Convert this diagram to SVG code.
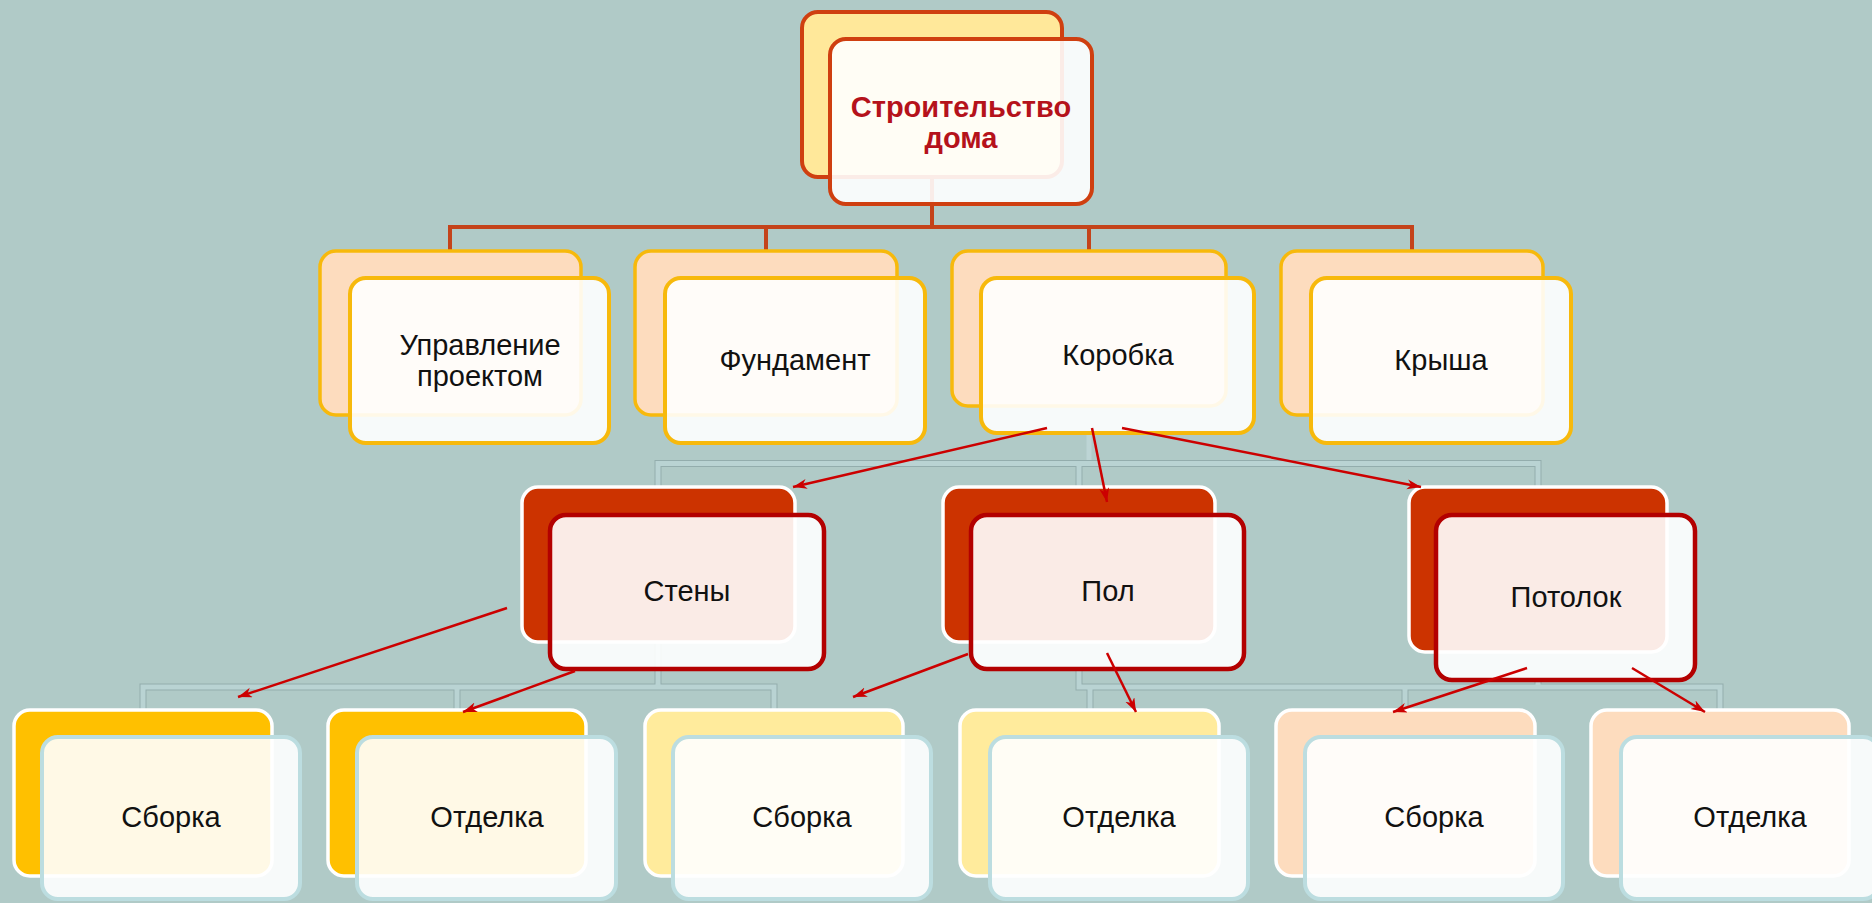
<svg xmlns="http://www.w3.org/2000/svg" width="1872" height="903" viewBox="0 0 1872 903">
<defs>
<style>
.txt{font-family:"Liberation Sans",Arial,sans-serif;font-size:29px;fill:#111;text-anchor:middle}
.rt{font-weight:bold;fill:#b5121b}
.r-back{fill:#ffe89a;stroke:#cf3f10;stroke-width:4}
.r-front{fill:#fff;fill-opacity:.9;stroke:#cf3f10;stroke-width:4}
.l2-back{fill:#fddcbe;stroke:#f7b90c;stroke-width:3.5}
.l2-front{fill:#fff;fill-opacity:.9;stroke:#f7b90c;stroke-width:4}
.l3-back{fill:#cc3300;stroke:#fff;stroke-width:3.5}
.l3-front{fill:#fff;fill-opacity:.9;stroke:#b30000;stroke-width:4.5}
.l4-back{stroke:#fff;stroke-width:3.5}
.l4-front{fill:#fff;fill-opacity:.9;stroke:#bcdde0;stroke-width:4}
.tree{fill:none;stroke:#c4431a;stroke-width:4}
.br-o{fill:none;stroke:#93adad;stroke-width:7}
.br-i{fill:none;stroke:#b9d3d3;stroke-width:5}
.br-f{fill:none;stroke:#bdd5d5;stroke-width:5}
.arr{fill:none;stroke:#cc0000;stroke-width:2.5;marker-end:url(#ah)}
</style>
<marker id="ah" markerUnits="userSpaceOnUse" markerWidth="16" markerHeight="12" refX="14" refY="5" orient="auto">
<path d="M0,0 L14,5 L0,10 L4,5 z" fill="#cc0000"/>
</marker>
</defs>
<rect x="0" y="0" width="1872" height="903" fill="#b0cac7"/>

<g id="connectors">
<path class="tree" d="M932,177 V227 M450,251 V227 H1412 V251 M766,227 V251 M1089,227 V251"/>
<path class="br-f" d="M1089,433 V461"/>
<path class="br-o" d="M658,487 V463.5 H1538 V487 M1079,463.5 V487"/>
<path class="br-i" d="M658,487 V463.5 H1538 V487 M1079,463.5 V487"/>
<path class="br-o" d="M143,710 V687 H774 V710 M457,687 V710 M658,642 V687 M1079,669 V687 H1720 V710 M1090,687 V710 M1405,687 V710 M1538,680 V687"/>
<path class="br-i" d="M143,710 V687 H774 V710 M457,687 V710 M658,642 V687 M1079,669 V687 H1720 V710 M1090,687 V710 M1405,687 V710 M1538,680 V687"/>
</g>

<g id="root">
<rect class="r-back" x="802" y="12" width="260" height="165" rx="16"/>
<rect class="r-front" x="830" y="39" width="262" height="165" rx="16"/>
<text class="txt rt" x="961" y="117">Строительство</text>
<text class="txt rt" x="961" y="148">дома</text>
</g>

<g id="n-upravlenie">
<rect class="l2-back" x="320" y="251" width="261" height="164" rx="16"/>
<rect class="l2-front" x="350" y="278" width="259" height="165" rx="16"/>
<text class="txt" x="480" y="355">Управление</text>
<text class="txt" x="480" y="386">проектом</text>
</g>
<g id="n-fundament">
<rect class="l2-back" x="635" y="251" width="262" height="164" rx="16"/>
<rect class="l2-front" x="665" y="278" width="260" height="165" rx="16"/>
<text class="txt" x="795" y="370">Фундамент</text>
</g>
<g id="n-korobka">
<rect class="l2-back" x="952" y="251" width="274" height="155" rx="16"/>
<rect class="l2-front" x="981" y="278" width="273" height="155" rx="16"/>
<text class="txt" x="1118" y="365">Коробка</text>
</g>
<g id="n-krysha">
<rect class="l2-back" x="1281" y="251" width="262" height="164" rx="16"/>
<rect class="l2-front" x="1311" y="278" width="260" height="165" rx="16"/>
<text class="txt" x="1441" y="370">Крыша</text>
</g>

<g id="n-steny">
<rect class="l3-back" x="522" y="487" width="273" height="155" rx="16"/>
<rect class="l3-front" x="550" y="515" width="274" height="154" rx="16"/>
<text class="txt" x="687" y="601">Стены</text>
</g>
<g id="n-pol">
<rect class="l3-back" x="943" y="487" width="272" height="155" rx="16"/>
<rect class="l3-front" x="971" y="515" width="273" height="154" rx="16"/>
<text class="txt" x="1108" y="601">Пол</text>
</g>
<g id="n-potolok">
<rect class="l3-back" x="1409" y="487" width="258" height="165" rx="16"/>
<rect class="l3-front" x="1436" y="515" width="259" height="165" rx="16"/>
<text class="txt" x="1566" y="607">Потолок</text>
</g>

<g id="n-steny-sborka">
<rect class="l4-back" fill="#ffc000" x="14" y="710" width="258" height="166" rx="16"/>
<rect class="l4-front" x="42" y="737" width="258" height="162" rx="16"/>
<text class="txt" x="171" y="827">Сборка</text>
</g>
<g id="n-steny-otdelka">
<rect class="l4-back" fill="#ffc000" x="328" y="710" width="258" height="166" rx="16"/>
<rect class="l4-front" x="357" y="737" width="259" height="162" rx="16"/>
<text class="txt" x="487" y="827">Отделка</text>
</g>
<g id="n-pol-sborka">
<rect class="l4-back" fill="#ffeb9c" x="645" y="710" width="258" height="166" rx="16"/>
<rect class="l4-front" x="673" y="737" width="258" height="162" rx="16"/>
<text class="txt" x="802" y="827">Сборка</text>
</g>
<g id="n-pol-otdelka">
<rect class="l4-back" fill="#ffeb9c" x="960" y="710" width="259" height="166" rx="16"/>
<rect class="l4-front" x="990" y="737" width="258" height="162" rx="16"/>
<text class="txt" x="1119" y="827">Отделка</text>
</g>
<g id="n-potolok-sborka">
<rect class="l4-back" fill="#fddcbe" x="1276" y="710" width="259" height="166" rx="16"/>
<rect class="l4-front" x="1305" y="737" width="258" height="162" rx="16"/>
<text class="txt" x="1434" y="827">Сборка</text>
</g>
<g id="n-potolok-otdelka">
<rect class="l4-back" fill="#fddcbe" x="1591" y="710" width="258" height="166" rx="16"/>
<rect class="l4-front" x="1621" y="737" width="258" height="162" rx="16"/>
<text class="txt" x="1750" y="827">Отделка</text>
</g>

<g id="arrows">
<line class="arr" x1="1047" y1="428" x2="793" y2="487"/>
<line class="arr" x1="1092" y1="428" x2="1107" y2="502"/>
<line class="arr" x1="1122" y1="428" x2="1421" y2="487"/>
<line class="arr" x1="507" y1="608" x2="238" y2="697"/>
<line class="arr" x1="575" y1="671" x2="463" y2="712"/>
<line class="arr" x1="968" y1="654" x2="853" y2="697"/>
<line class="arr" x1="1107" y1="653" x2="1136" y2="712"/>
<line class="arr" x1="1527" y1="668" x2="1393" y2="712"/>
<line class="arr" x1="1632" y1="668" x2="1705" y2="712"/>
</g>
</svg>
